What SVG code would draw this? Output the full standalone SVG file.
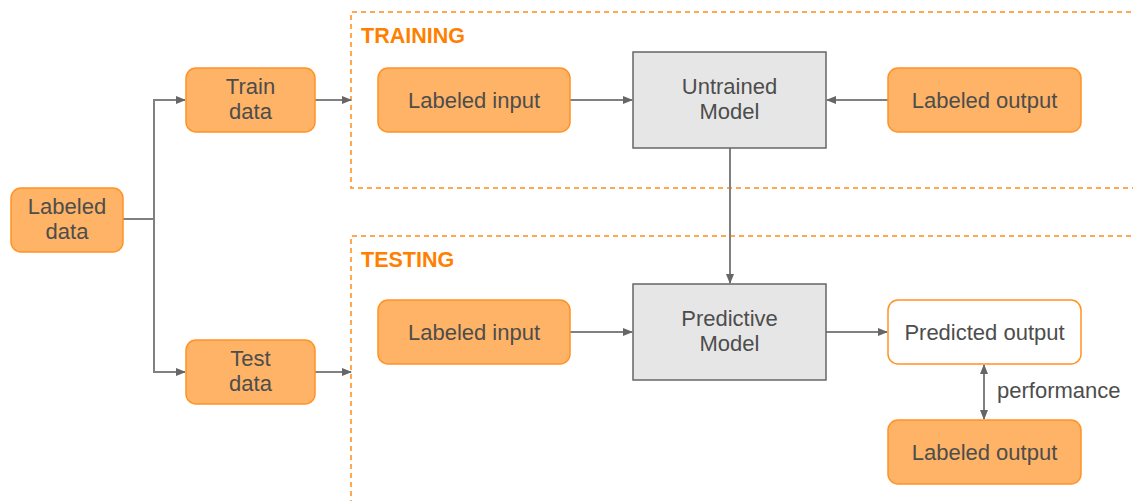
<svg xmlns="http://www.w3.org/2000/svg" width="1133" height="501" viewBox="0 0 1133 501">
  <style>
    .box { fill: #FFB366; stroke: #FF9326; stroke-width: 1.5; }
    .out { fill: #FFFFFF; stroke: #FF9326; stroke-width: 1.5; }
    .model { fill: #E6E6E6; stroke: #666666; stroke-width: 1.5; }
    .lbl { font-family: "Liberation Sans", Arial, sans-serif; font-size: 22px; fill: #4D4D4D; text-anchor: middle; }
    .note { font-family: "Liberation Sans", Arial, sans-serif; font-size: 22px; fill: #4D4D4D; }
    .title { font-family: "Liberation Sans", Arial, sans-serif; font-size: 21.5px; font-weight: bold; fill: #FF8000; }
    .zone { fill: none; stroke: #FF8C1A; stroke-width: 1.5; stroke-dasharray: 5 4; }
    .edge { fill: none; stroke: #808080; stroke-width: 2; }
  </style>
  <defs>
    <marker id="arr" viewBox="0 0 10 10" refX="9" refY="5" markerWidth="10" markerHeight="10" markerUnits="userSpaceOnUse" orient="auto-start-reverse">
      <path d="M0,1 L10,5 L0,9 z" fill="#666666"/>
    </marker>
  </defs>

  <!-- phase areas -->
  <g id="training-zone">
    <path class="zone" d="M1140,12 H351 V188 H1140"/>
    <text class="title" x="361" y="43">TRAINING</text>
  </g>
  <g id="testing-zone">
    <path class="zone" d="M1140,236 H351 V505"/>
    <text class="title" x="361" y="267">TESTING</text>
  </g>

  <!-- connectors -->
  <g id="connectors">
    <path class="edge" d="M123,219 H154"/>
    <path class="edge" d="M154,219 V100 H185" marker-end="url(#arr)"/>
    <path class="edge" d="M154,219 V372 H185" marker-end="url(#arr)"/>
    <path class="edge" d="M315,100 H351" marker-end="url(#arr)"/>
    <path class="edge" d="M315,372 H351" marker-end="url(#arr)"/>
    <path class="edge" d="M570,100 H632" marker-end="url(#arr)"/>
    <path class="edge" d="M888,100 H827" marker-end="url(#arr)"/>
    <path class="edge" d="M730,148 V283" marker-end="url(#arr)"/>
    <path class="edge" d="M570,332 H632" marker-end="url(#arr)"/>
    <path class="edge" d="M826,332 H887" marker-end="url(#arr)"/>
    <path class="edge" d="M984,365 V419" marker-start="url(#arr)" marker-end="url(#arr)"/>
    <text class="note" x="997" y="398">performance</text>
  </g>

  <!-- nodes -->
  <g id="labeled-data">
    <rect class="box" x="11" y="188" width="112" height="64" rx="10"/>
    <text class="lbl" x="67" y="214">Labeled</text>
    <text class="lbl" x="67" y="239">data</text>
  </g>
  <g id="train-data">
    <rect class="box" x="186" y="68" width="129" height="64" rx="10"/>
    <text class="lbl" x="250.5" y="94">Train</text>
    <text class="lbl" x="250.5" y="119">data</text>
  </g>
  <g id="test-data">
    <rect class="box" x="186" y="340" width="129" height="64" rx="10"/>
    <text class="lbl" x="250.5" y="366">Test</text>
    <text class="lbl" x="250.5" y="391">data</text>
  </g>
  <g id="train-labeled-input">
    <rect class="box" x="378" y="68" width="192" height="64" rx="10"/>
    <text class="lbl" x="474" y="108">Labeled input</text>
  </g>
  <g id="untrained-model">
    <rect class="model" x="633" y="52" width="193" height="96"/>
    <text class="lbl" x="729.5" y="94">Untrained</text>
    <text class="lbl" x="729.5" y="119">Model</text>
  </g>
  <g id="train-labeled-output">
    <rect class="box" x="888" y="68" width="193" height="64" rx="10"/>
    <text class="lbl" x="984.5" y="108">Labeled output</text>
  </g>
  <g id="test-labeled-input">
    <rect class="box" x="378" y="300" width="192" height="64" rx="10"/>
    <text class="lbl" x="474" y="340">Labeled input</text>
  </g>
  <g id="predictive-model">
    <rect class="model" x="633" y="284" width="193" height="96"/>
    <text class="lbl" x="729.5" y="326">Predictive</text>
    <text class="lbl" x="729.5" y="351">Model</text>
  </g>
  <g id="predicted-output">
    <rect class="out" x="888" y="300" width="193" height="64" rx="10"/>
    <text class="lbl" x="984.5" y="340">Predicted output</text>
  </g>
  <g id="test-labeled-output">
    <rect class="box" x="888" y="420" width="193" height="64" rx="10"/>
    <text class="lbl" x="984.5" y="460">Labeled output</text>
  </g>
</svg>
